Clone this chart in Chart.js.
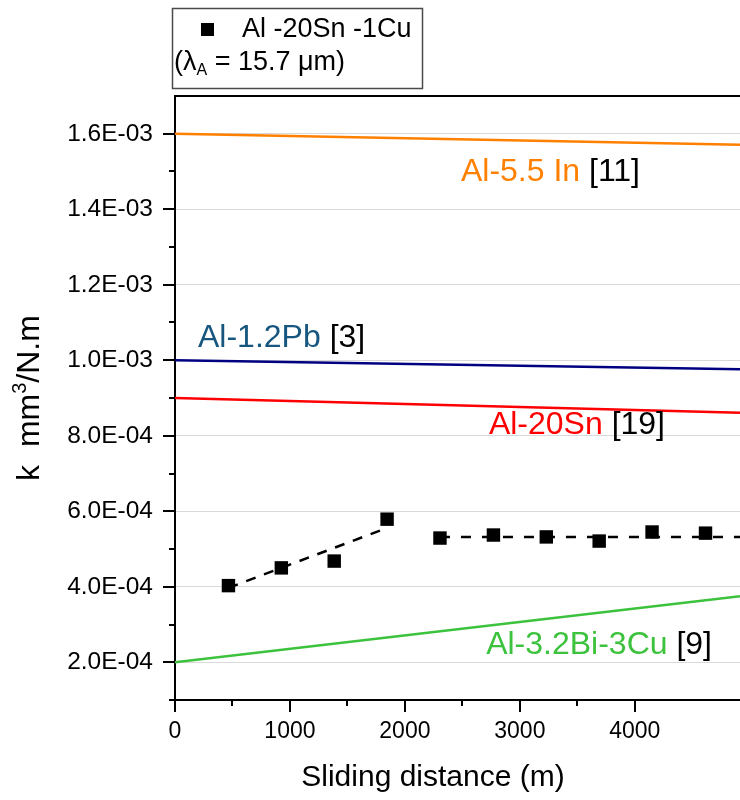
<!DOCTYPE html>
<html>
<head>
<meta charset="utf-8">
<script src="https://cdn.jsdelivr.net/npm/chart.js@4.4.1/dist/chart.umd.min.js"></script>
<style>
  html, body { margin: 0; padding: 0; background: #fff; }
  canvas { display: block; }
</style>
</head>
<body>
<canvas id="wear" width="740" height="800"></canvas>
<script>
// Measured specific wear rate of Al-20Sn-1Cu against sliding distance
const distance = [465, 925, 1385, 1845, 2305, 2770, 3230, 3690, 4150, 4615];
const wearRate = [4.03e-4, 4.50e-4, 4.68e-4, 5.79e-4, 5.29e-4, 5.37e-4, 5.32e-4, 5.21e-4, 5.45e-4, 5.42e-4];

// Dashed trend lines (run-in and steady state)
const runInX = [465, 1845];
const runInY = [3.97e-4, 5.56e-4];
const steadyX = [2305, 4915];
const steadyY = [5.32e-4, 5.32e-4];

// Literature reference alloys
const refX = [0, 4915];
const refAlIn = [1.600e-3, 1.571e-3];
const refAlPb = [1.000e-3, 0.976e-3];
const refAlSn = [9.00e-4, 8.61e-4];
const refAlBiCu = [2.00e-4, 3.75e-4];

// Axis ticks
const xTicks = [0, 1000, 2000, 3000, 4000];
const xTickLabels = ['0', '1000', '2000', '3000', '4000'];
const xMinorTicks = [500, 1500, 2500, 3500];
const yTicks = [2e-4, 4e-4, 6e-4, 8e-4, 1.0e-3, 1.2e-3, 1.4e-3, 1.6e-3];
const yTickLabels = ['2.0E-04', '4.0E-04', '6.0E-04', '8.0E-04', '1.0E-03', '1.2E-03', '1.4E-03', '1.6E-03'];
const yMinorTicks = [1e-4, 3e-4, 5e-4, 7e-4, 9e-4, 1.1e-3, 1.3e-3, 1.5e-3];

const FONT = "'Liberation Sans', Arial, sans-serif";
const ORANGE = '#ff8000', NAVY = '#000080', RED = '#ff0000', GREEN = '#3cc23c', PB_TEXT = '#17577f';

const pts = (xs, ys) => xs.map((v, i) => ({ x: v, y: ys[i] }));

// Draws a run of text pieces (with optional size / vertical shift) starting at x
function drawRuns(ctx, runs, x, y) {
  let cx = x;
  runs.forEach(r => {
    ctx.font = (r.size || 24) + 'px ' + FONT;
    ctx.fillStyle = r.color || '#000';
    ctx.fillText(r.text, cx, y + (r.dy || 0));
    cx += ctx.measureText(r.text).width;
  });
  return cx - x;
}
function runsWidth(ctx, runs) {
  let w = 0;
  runs.forEach(r => { ctx.font = (r.size || 24) + 'px ' + FONT; w += ctx.measureText(r.text).width; });
  return w;
}

const annotations = [
  { runs: [{ text: 'Al-5.5 In', color: ORANGE, size: 32 }, { text: ' [11]', size: 32 }], right: 640, y: 172 },
  { runs: [{ text: 'Al-1.2Pb', color: PB_TEXT, size: 32 }, { text: ' [3]', size: 32 }], left: 198, y: 338 },
  { runs: [{ text: 'Al-20Sn', color: RED, size: 32 }, { text: ' [19]', size: 32 }], right: 665, y: 425 },
  { runs: [{ text: 'Al-3.2Bi-3Cu', color: GREEN, size: 32 }, { text: ' [9]', size: 32 }], right: 712, y: 645 }
];

const decorations = {
  id: 'decorations',
  beforeDraw(chart) {
    const ctx = chart.ctx;
    ctx.save();
    ctx.fillStyle = '#fff';
    ctx.fillRect(0, 0, chart.width, chart.height);
    ctx.restore();
  },
  afterDraw(chart) {
    const { ctx, chartArea: a, scales: { x, y } } = chart;
    ctx.save();
    ctx.strokeStyle = '#000';
    ctx.lineWidth = 2;
    const seg = (x1, y1, x2, y2) => { ctx.beginPath(); ctx.moveTo(x1, y1); ctx.lineTo(x2, y2); ctx.stroke(); };

    // top frame line
    seg(a.left - 1, a.top, a.right, a.top);

    // outward tick marks
    xTicks.forEach(v => { const p = Math.round(x.getPixelForValue(v)); seg(p, a.bottom, p, a.bottom + 12); });
    xMinorTicks.forEach(v => { const p = Math.round(x.getPixelForValue(v)); seg(p, a.bottom, p, a.bottom + 6); });
    yTicks.forEach(v => { const p = Math.round(y.getPixelForValue(v)); seg(a.left, p, a.left - 12, p); });
    yMinorTicks.forEach(v => { const p = Math.round(y.getPixelForValue(v)); seg(a.left, p, a.left - 6, p); });

    ctx.textBaseline = 'middle';
    ctx.textAlign = 'left';

    // axis titles
    ctx.font = '30px ' + FONT;
    ctx.fillStyle = '#000';
    ctx.textAlign = 'center';
    ctx.fillText('Sliding distance (m)', 433, 778);
    ctx.textAlign = 'left';

    const yTitle = [{ text: 'k  mm', size: 32 }, { text: '3', size: 20, dy: -10 }, { text: '/N.m', size: 32 }];
    ctx.save();
    ctx.translate(30, 398);
    ctx.rotate(-Math.PI / 2);
    drawRuns(ctx, yTitle, -runsWidth(ctx, yTitle) / 2, 0);
    ctx.restore();

    // legend box
    ctx.lineWidth = 1.5;
    ctx.strokeStyle = '#4a4a4a';
    ctx.strokeRect(172.5, 8.5, 250, 80);
    ctx.fillStyle = '#000';
    ctx.fillRect(201, 23, 13, 13);
    drawRuns(ctx, [{ text: 'Al -20Sn -1Cu', size: 27 }], 242, 30);
    drawRuns(ctx, [
      { text: '(\u03bb', size: 27 },
      { text: 'A', size: 16, dy: 8 },
      { text: ' = 15.7 \u03bcm)', size: 27 }
    ], 174, 63);

    // reference labels
    annotations.forEach(an => {
      const w = runsWidth(ctx, an.runs);
      const left = an.left !== undefined ? an.left : an.right - w;
      drawRuns(ctx, an.runs, left, an.y);
    });
    ctx.restore();
  }
};

new Chart(document.getElementById('wear'), {
  type: 'scatter',
  data: {
    datasets: [
      { label: 'Al -20Sn -1Cu', data: pts(distance, wearRate), pointStyle: 'rect', pointRadius: 9.5,
        pointBackgroundColor: '#000', pointBorderWidth: 0, showLine: false },
      { label: 'run-in', data: pts(runInX, runInY), showLine: true, pointRadius: 0,
        borderColor: '#000', borderWidth: 2.5, borderDash: [10, 9] },
      { label: 'steady', data: pts(steadyX, steadyY), showLine: true, pointRadius: 0,
        borderColor: '#000', borderWidth: 2.5, borderDash: [10, 11] },
      { label: 'Al-5.5 In [11]', data: pts(refX, refAlIn), showLine: true, pointRadius: 0, borderColor: ORANGE, borderWidth: 2.5 },
      { label: 'Al-1.2Pb [3]', data: pts(refX, refAlPb), showLine: true, pointRadius: 0, borderColor: NAVY, borderWidth: 2.5 },
      { label: 'Al-20Sn [19]', data: pts(refX, refAlSn), showLine: true, pointRadius: 0, borderColor: RED, borderWidth: 2.5 },
      { label: 'Al-3.2Bi-3Cu [9]', data: pts(refX, refAlBiCu), showLine: true, pointRadius: 0, borderColor: GREEN, borderWidth: 2.5 }
    ]
  },
  options: {
    responsive: false,
    animation: false,
    layout: { autoPadding: false, padding: { top: 96, right: 0, bottom: 0, left: 0 } },
    plugins: { legend: { display: false }, tooltip: { enabled: false } },
    scales: {
      x: {
        type: 'linear', min: 0, max: 4915,
        afterBuildTicks: s => { s.ticks = xTicks.map(v => ({ value: v })); },
        afterFit: s => { s.height = 100; s.paddingLeft = 0; s.paddingRight = 0; },
        ticks: { font: { family: FONT, size: 23 }, color: '#000', padding: 18, maxRotation: 0,
                 callback: v => xTickLabels[xTicks.indexOf(v)] },
        grid: { display: true, drawOnChartArea: false, drawTicks: false },
        border: { display: true, color: '#000', width: 2 }
      },
      y: {
        type: 'linear', min: 1e-4, max: 1.7e-3,
        afterBuildTicks: s => { s.ticks = yTicks.map(v => ({ value: v })); },
        afterFit: s => { s.width = 175; s.paddingTop = 0; s.paddingBottom = 0; },
        ticks: { font: { family: FONT, size: 24.5 }, color: '#000', padding: 22,
                 callback: v => yTickLabels[yTicks.indexOf(v)] },
        grid: { display: true, color: '#d9d9d9', lineWidth: 1, drawTicks: false },
        border: { display: true, color: '#000', width: 2 }
      }
    }
  },
  plugins: [decorations]
});
</script>
</body>
</html>
